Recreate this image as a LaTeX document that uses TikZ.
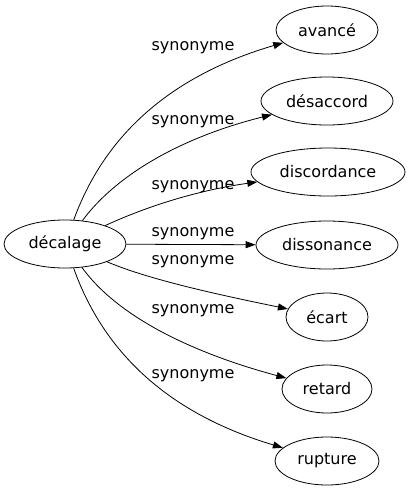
\documentclass[tikz,border=0pt]{standalone}
\usepackage{fontspec}
\setmainfont{DejaVu Sans}
\usetikzlibrary{arrows.meta,shapes.geometric}
\begin{document}
\begin{tikzpicture}[x=1pt,y=-1pt,
  word/.style={draw,line width=0.8pt,ellipse,inner sep=0pt,minimum height=48pt,font=\fontsize{16}{16}\selectfont},
  lab/.style={inner sep=0pt,font=\fontsize{16}{16}\selectfont},
  syn/.style={draw,line width=0.8pt,-{Triangle[length=10pt,width=7pt]}}]
\useasboundingbox (0,0) rectangle (409,491);
\node[word,minimum width=122pt] (d) at (65,244) {décalage};
\node[word,minimum width=102pt] (a1) at (327,30) {avancé};
\node[word,minimum width=132pt] (a2) at (327,101) {désaccord};
\node[word,minimum width=154pt] (a3) at (328,172) {discordance};
\node[word,minimum width=142pt] (a4) at (327,245) {dissonance};
\node[word,minimum width=82pt] (a5) at (327,317) {écart};
\node[word,minimum width=90pt] (a6) at (327,389) {retard};
\node[word,minimum width=104pt] (a7) at (327,461) {rupture};
\draw[syn] (d) .. controls (110,120) and (190,70) .. (a1);
\draw[syn] (d) .. controls (120,170) and (190,135) .. (a2);
\draw[syn] (d) .. controls (150,205) and (200,190) .. (a3);
\draw[syn] (d) -- (a4);
\draw[syn] (d) .. controls (150,280) and (220,295) .. (a5);
\draw[syn] (d) .. controls (120,320) and (200,355) .. (a6);
\draw[syn] (d) .. controls (110,370) and (190,420) .. (a7);
\node[lab] (l1) at (193,48) {synonyme};
\node[lab] (l2) at (193,122) {synonyme};
\node[lab] (l3) at (193,187) {synonyme};
\node[lab] (l4) at (193,234) {synonyme};
\node[lab] (l5) at (193,262) {synonyme};
\node[lab] (l6) at (193,311) {synonyme};
\node[lab] (l7) at (193,376) {synonyme};
\end{tikzpicture}
\end{document}
